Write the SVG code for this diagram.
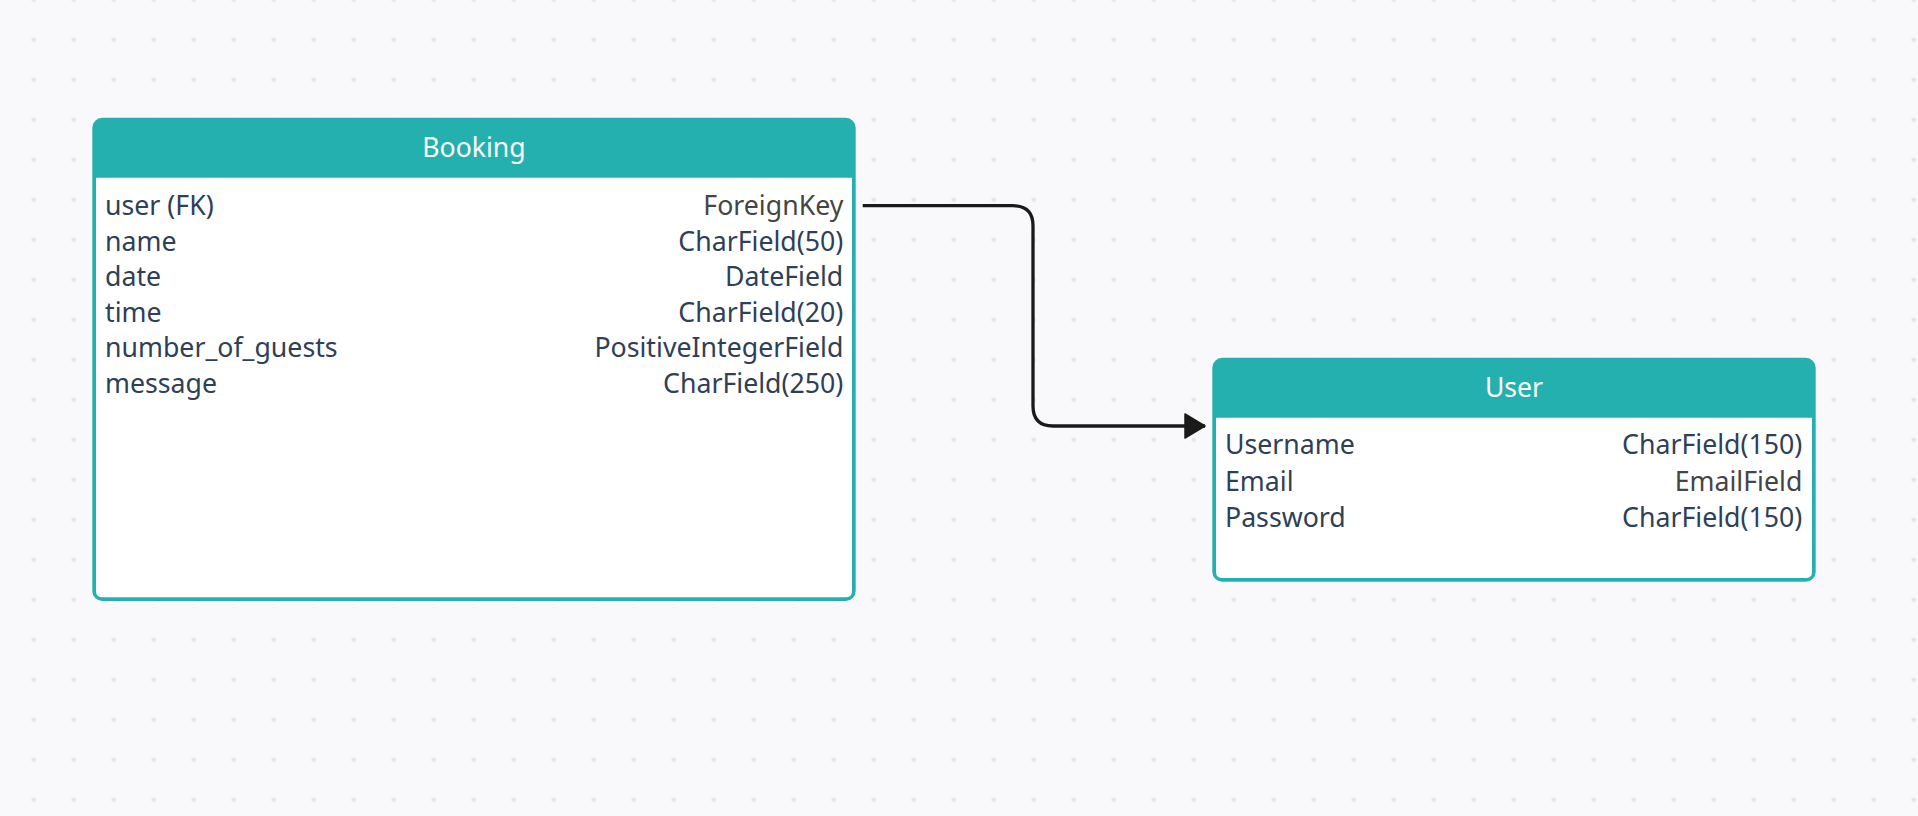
<svg xmlns="http://www.w3.org/2000/svg" width="1918" height="816" viewBox="0 0 1918 816">
  <defs>
    <pattern id="dots" patternUnits="userSpaceOnUse" x="13.7" y="19.7" width="40" height="40">
      <circle cx="20" cy="20" r="2.3" fill="#e5e5e9"/>
    </pattern>
    <marker id="arrow" markerUnits="userSpaceOnUse" markerWidth="30" markerHeight="30" refX="21" refY="13" orient="auto" viewBox="0 0 30 30">
      <path d="M1,1 L21,13 L1,25 Z" fill="#1a1a1a" stroke="#1a1a1a" stroke-width="1.5" stroke-linejoin="round"/>
    </marker>
    <style>
      .outer { fill: #24b0af; }
      .body { fill: #ffffff; }
      .title { font-family: "Noto Sans", "Open Sans", sans-serif; font-size: 26.6px; fill: #ffffff; text-anchor: middle; }
      .fname { font-family: "Noto Sans", "Open Sans", sans-serif; font-size: 26.7px; fill: #2e4057; }
      .ftype { font-family: "Noto Sans", "Open Sans", sans-serif; font-size: 26.7px; fill: #2e4057; text-anchor: end; }
      .gray { fill: #454545; }
      .conn { fill: none; stroke: #1a1a1a; stroke-width: 3.3; }
    </style>
  </defs>
  <rect width="1918" height="816" fill="#f9f9fb"/>
  <rect width="1918" height="816" fill="url(#dots)"/>

  <g id="connectors">
    <path class="conn" d="M862.7,205.7 H1013 Q1033,205.7 1033,225.7 V406 Q1033,426 1053,426 H1205" marker-end="url(#arrow)"/>
  </g>

  <g id="booking">
    <rect class="outer" x="92.3" y="117.7" width="763.4" height="483.3" rx="10"/>
    <path class="body" d="M96,177.7 H852 V591 Q852,597.3 845.7,597.3 H102.3 Q96,597.3 96,591 Z"/>
    <text class="title" x="474" y="157">Booking</text>
    <text class="fname" x="105" y="215">user (FK)</text>
    <text class="ftype gray" x="843.3" y="215">ForeignKey</text>
    <text class="fname" x="105" y="250.6">name</text>
    <text class="ftype" x="843.3" y="250.6">CharField(50)</text>
    <text class="fname" x="105" y="286.2">date</text>
    <text class="ftype" x="843.3" y="286.2">DateField</text>
    <text class="fname" x="105" y="321.8">time</text>
    <text class="ftype" x="843.3" y="321.8">CharField(20)</text>
    <text class="fname" x="105" y="357.4">number_of_guests</text>
    <text class="ftype" x="843.3" y="357.4">PositiveIntegerField</text>
    <text class="fname" x="105" y="393">message</text>
    <text class="ftype" x="843.3" y="393">CharField(250)</text>
  </g>

  <g id="user">
    <rect class="outer" x="1212.3" y="357.7" width="603.4" height="224" rx="10"/>
    <path class="body" d="M1216,417.7 H1812 V571.7 Q1812,578 1805.7,578 H1222.3 Q1216,578 1216,571.7 Z"/>
    <text class="title" x="1514" y="397">User</text>
    <text class="fname" x="1225" y="454.3">Username</text>
    <text class="ftype" x="1802.3" y="454.3">CharField(150)</text>
    <text class="fname" x="1225" y="490.5">Email</text>
    <text class="ftype gray" x="1802.3" y="490.5">EmailField</text>
    <text class="fname" x="1225" y="526.7">Password</text>
    <text class="ftype" x="1802.3" y="526.7">CharField(150)</text>
  </g>
</svg>
